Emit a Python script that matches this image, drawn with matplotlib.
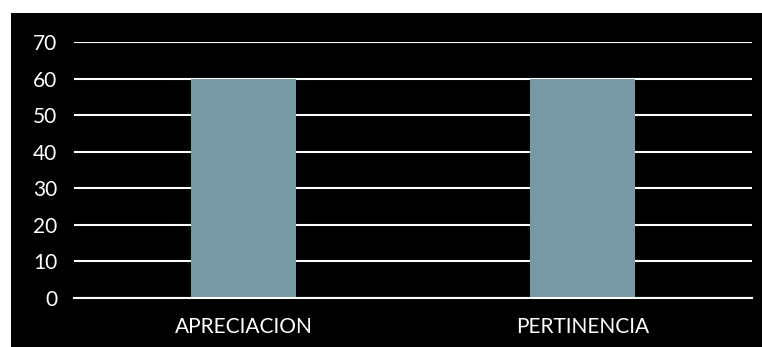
import matplotlib.pyplot as plt
from matplotlib.patches import Rectangle

# datos
categorias = ["APRECIACION", "PERTINENCIA"]
valores = [60, 60]
ticks_y = [0, 10, 20, 30, 40, 50, 60, 70]

plt.rcParams["font.family"] = ["Lato", "DejaVu Sans"]

fig = plt.figure(figsize=(7.62, 3.47), dpi=100, facecolor="white")

# fondo negro (con margen blanco arriba e izquierda)
fig.patches.append(Rectangle((11 / 762, 0), 1, 1 - 13 / 347,
                             transform=fig.transFigure, facecolor="black",
                             edgecolor="none", zorder=-5))

ax = fig.add_axes([74 / 762, 49 / 347, 678 / 762, 256 / 347])
ax.set_facecolor("black")

ax.bar(categorias, valores, width=0.31, color="#7699A4", zorder=2)

ax.set_ylim(0, 70)
ax.set_xlim(-0.5, 1.5)
ax.set_yticks(ticks_y)
ax.yaxis.grid(True, color="white", linewidth=1.5, zorder=1)
ax.set_axisbelow(True)

for s in ["top", "left", "right"]:
    ax.spines[s].set_visible(False)
ax.spines["bottom"].set_color("white")
ax.spines["bottom"].set_linewidth(1.5)
ax.spines["bottom"].set_zorder(3)

ax.tick_params(axis="y", length=0, pad=12, labelsize=15, labelcolor="white")
ax.tick_params(axis="x", length=0, pad=14, labelsize=15, labelcolor="white")

plt.savefig("out.png", dpi=100, facecolor="white")
